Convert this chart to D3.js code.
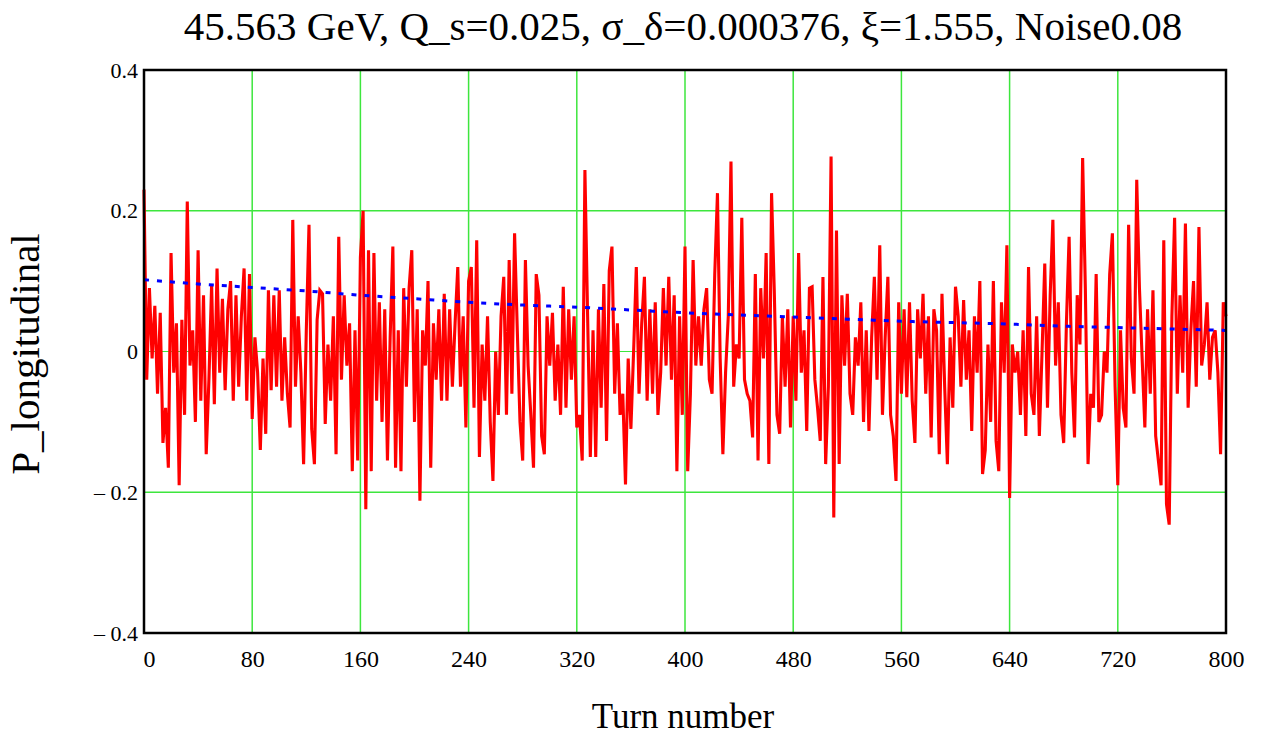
<!DOCTYPE html>
<html>
<head>
<meta charset="utf-8">
<script src="https://cdn.jsdelivr.net/npm/d3@7"></script>
<style>
  html, body { margin: 0; padding: 0; background: #fff; }
  svg text { font-family: "Times New Roman", "Liberation Serif", serif; fill: #000; }
</style>
</head>
<body>
<svg id="chart" width="1270" height="738"></svg>
<script>
// P_longitudinal, every 2 turns (turn = index * turnStep)
const turnStep = 2;
const pLong = [
  // turns 0-62
  0.23,-0.04,0.09,-0.01,0.065,-0.06,0.055,-0.13,-0.08,-0.165,0.14,-0.03,0.04,-0.19,0.045,-0.09,
  0.213,-0.02,0.03,-0.1,0.144,-0.07,0.08,-0.146,-0.04,0.095,-0.075,0.118,-0.03,0.075,-0.055,0.06,
  // turns 64-130
  0.1,-0.07,0.08,-0.05,0.05,0.118,-0.07,0.11,-0.096,0.02,-0.03,-0.14,-0.01,-0.117,0.087,-0.055,0.08,
  -0.05,0.087,-0.07,0.02,-0.06,-0.108,0.187,-0.05,0.05,-0.03,-0.16,0.03,0.18,-0.11,-0.16,0.045,0.087,
  // turns 132-196
  0.082,-0.103,0.01,-0.07,0.05,-0.146,0.163,-0.04,0.08,-0.02,0.04,-0.17,0.03,-0.155,0.134,0.2,-0.224,
  0.144,-0.17,0.14,-0.07,0.07,-0.1,0.06,-0.155,0.02,0.149,-0.165,0.03,-0.17,0.09,-0.05,0.09,
  // turns 198-264
  0.144,-0.1,0.06,-0.212,0.03,-0.02,0.1,-0.165,0.04,-0.04,0.06,-0.07,0.082,-0.07,0.06,-0.05,0.04,
  0.12,-0.05,0.05,-0.108,0.1,0.12,-0.08,0.158,-0.15,0.01,-0.07,0.05,-0.1,-0.184,0.0,-0.09,0.05,
  // turns 266-330
  0.106,-0.09,0.13,-0.06,0.168,0.03,-0.1,-0.155,0.13,-0.02,-0.09,-0.165,0.11,0.08,-0.12,-0.146,0.05,
  -0.02,0.055,-0.07,0.01,-0.09,0.092,-0.08,0.06,-0.04,0.05,-0.108,-0.09,-0.155,0.258,0.05,-0.15,
  // turns 332-398
  0.03,-0.15,0.06,-0.08,0.096,-0.127,0.115,0.149,-0.06,0.04,-0.09,-0.06,-0.189,-0.01,-0.11,0.0,0.12,
  -0.06,0.04,0.106,-0.07,0.06,-0.06,0.07,-0.09,-0.03,0.09,-0.02,0.106,-0.04,0.08,-0.17,0.05,-0.09,
  // turns 400-464
  0.149,-0.17,-0.06,0.13,-0.02,0.05,-0.02,0.06,0.09,-0.04,-0.06,0.11,0.225,-0.01,-0.146,-0.03,0.05,
  0.27,-0.05,0.01,-0.01,0.19,-0.04,-0.06,-0.07,-0.122,0.11,-0.155,0.09,-0.01,0.14,-0.16,0.225,
  // turns 466-532
  0.087,-0.09,-0.117,0.05,-0.05,0.06,-0.108,0.05,-0.07,0.14,-0.03,0.03,-0.113,0.09,0.092,-0.04,-0.08,
  -0.127,0.106,-0.16,-0.05,0.277,-0.236,0.172,-0.16,0.08,-0.02,0.082,-0.06,-0.09,0.02,-0.02,0.07,-0.1,
  // turns 534-600
  0.03,-0.113,0.02,0.106,-0.04,0.151,-0.09,0.02,0.106,-0.09,-0.12,-0.184,0.07,-0.06,0.06,-0.065,0.07,
  -0.07,-0.13,0.06,-0.01,0.082,-0.06,0.05,-0.122,0.06,0.03,-0.146,0.082,-0.05,-0.16,0.02,-0.08,0.092,
  // turns 602-668
  0.05,-0.05,0.073,-0.04,0.03,-0.113,0.05,-0.03,0.1,-0.174,-0.14,0.01,-0.1,0.1,-0.127,-0.17,0.07,
  -0.03,0.151,-0.208,0.01,-0.03,0.0,-0.09,0.03,-0.12,0.12,-0.06,-0.09,0.05,-0.12,0.0,0.125,-0.08,
  // turns 670-734
  0.08,0.187,-0.02,0.07,-0.09,-0.13,0.04,0.163,-0.03,-0.122,0.08,0.01,0.275,0.09,-0.16,-0.06,-0.08,
  0.11,-0.1,-0.09,0.0,-0.03,0.11,0.168,-0.05,-0.19,0.03,-0.08,-0.108,0.18,-0.01,-0.06,0.244,
  // turns 736-800
  0.09,-0.01,-0.108,0.06,-0.06,0.087,-0.12,-0.155,-0.19,0.158,-0.217,-0.246,0.05,0.19,-0.06,0.08,-0.03,
  0.182,-0.08,0.03,0.1,-0.05,0.177,-0.02,0.01,0.07,-0.04,0.02,0.03,-0.03,-0.146,0.07,0.05
];

// blue dotted trend, read every 40 turns
const trendTurns = [0,40,80,120,160,200,240,280,320,360,400,440,480,520,560,600,640,680,720,760,800];
const trendVals  = [0.102,0.096,0.091,0.086,0.080,0.075,0.070,0.066,0.063,0.059,0.055,0.052,0.049,0.046,0.043,0.041,0.039,0.036,0.034,0.032,0.030];

const xTicks = [0,80,160,240,320,400,480,560,640,720,800];
const yTicks = [-0.4,-0.2,0,0.2,0.4];
const yTickLabels = ["\u2013 0.4","\u2013 0.2","0","0.2","0.4"];
const gridX = [80,160,240,320,400,480,560,640,720];
const gridY = [-0.2,0,0.2];

const titleText = "45.563 GeV, Q_s=0.025, \u03c3_\u03b4=0.000376, \u03be=1.555, Noise0.08";

const svg = d3.select("#chart");
const L = 144, R = 1226, T = 70, B = 633;
const x = d3.scaleLinear().domain([0, 800]).range([L, R]);
const y = d3.scaleLinear().domain([-0.4, 0.4]).range([B, T]);

svg.append("rect").attr("width", 1270).attr("height", 738).attr("fill", "#fff");

// grid
const grid = svg.append("g");
grid.selectAll("line.gx").data(gridX).join("line").attr("class", "gx")
  .attr("x1", (d) => x(d)).attr("x2", (d) => x(d)).attr("y1", T).attr("y2", B)
  .attr("stroke", "#3de63d").attr("stroke-width", 1.5);
grid.selectAll("line.gy").data(gridY).join("line").attr("class", "gy")
  .attr("x1", L).attr("x2", R).attr("y1", (d) => y(d)).attr("y2", (d) => y(d))
  .attr("stroke", "#3de63d").attr("stroke-width", (d) => (d === 0 ? 1 : 1.5));

// red trace
const line = d3.line().x((d, i) => x(i * turnStep)).y((d) => y(d));
svg.append("path").datum(pLong).attr("d", line)
  .attr("fill", "none").attr("stroke", "#ff0000").attr("stroke-width", 3.1);

// blue dotted trend
const tline = d3.line().x((d, i) => x(trendTurns[i])).y((d) => y(d)).curve(d3.curveMonotoneX);
svg.append("path").datum(trendVals).attr("d", tline)
  .attr("fill", "none").attr("stroke", "#0000ff").attr("stroke-width", 3)
  .attr("stroke-dasharray", "5,8");

// frame
svg.append("rect").attr("x", L).attr("y", T).attr("width", R - L).attr("height", B - T)
  .attr("fill", "none").attr("stroke", "#000").attr("stroke-width", 2.5);

// axes (labels only)
const xAxis = svg.append("g").attr("transform", `translate(0,${B})`)
  .call(d3.axisBottom(x).tickValues(xTicks).tickSize(0).tickPadding(17).tickFormat(d3.format("d")));
const yAxis = svg.append("g").attr("transform", `translate(${L},0)`)
  .call(d3.axisLeft(y).tickValues(yTicks).tickSize(0).tickPadding(6)
    .tickFormat((d, i) => yTickLabels[i]));
[xAxis, yAxis].forEach((g) => {
  g.select(".domain").remove();
  g.selectAll("text").attr("font-family", null);
});
xAxis.selectAll("text").attr("font-size", 24);
yAxis.selectAll("text").attr("font-size", 22);
xAxis.selectAll("text").filter((d) => d === 0).attr("dx", 5);

// titles
svg.append("text").attr("x", 683).attr("y", 40).attr("text-anchor", "middle")
  .attr("font-size", 41).text(titleText);
svg.append("text").attr("x", 683).attr("y", 728).attr("text-anchor", "middle")
  .attr("font-size", 35).text("Turn number");
svg.append("text").attr("transform", "translate(39,354) rotate(-90)").attr("text-anchor", "middle")
  .attr("font-size", 41).text("P_longitudinal");
</script>
</body>
</html>
